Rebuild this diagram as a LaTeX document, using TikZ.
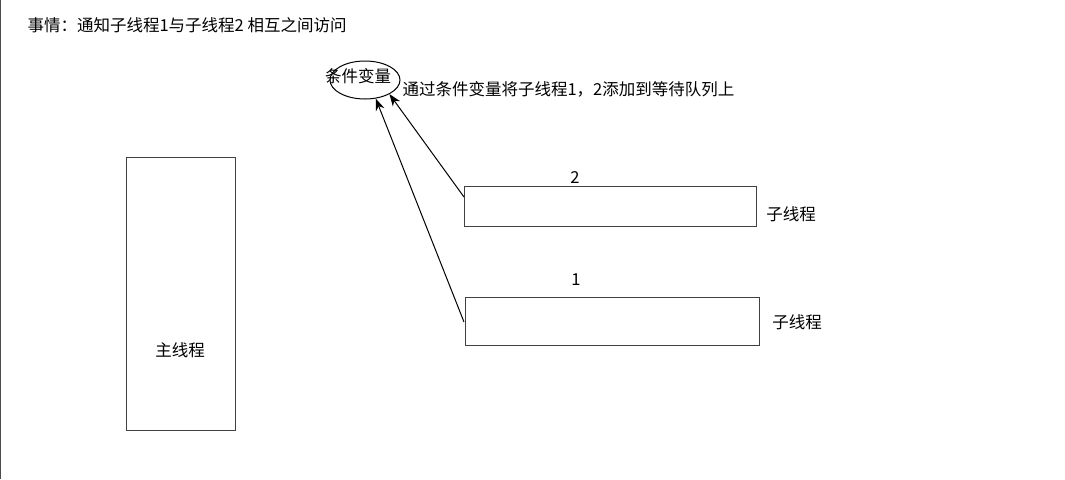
\documentclass[tikz,border=0pt]{standalone}
\usepackage{fontspec}
\setmainfont{Liberation Serif}
\newfontfamily\cjk{Noto Sans CJK SC}
\usetikzlibrary{arrows.meta,positioning,shapes.geometric}

\begin{document}
\begin{tikzpicture}[x=1pt,y=-1pt,
  font=\cjk\fontsize{16.5}{19}\selectfont,
  line width=1pt,
  box/.style = {draw, black!75, line width=1pt},
  lbl/.style = {inner sep=0pt, text=black},
  ->,
  >={Stealth[length=12pt,width=9pt]}]
  \useasboundingbox (0,0) rectangle (1065,479);
  \draw[-, black!70] (0.5,0) -- (0.5,479);
  \node[lbl, anchor=west] (title) at (27,25) {事情：通知子线程1与子线程2 相互之间访问};

  % condition variable
  \node[draw, ellipse, minimum width=70pt, minimum height=38pt, inner sep=0pt] (cond) at (365,80) {};
  \node[lbl] (condtext) at (358,76) {条件变量};
  \node[lbl, anchor=west] (note) at (402,89) {通过条件变量将子线程1，2添加到等待队列上};

  % threads
  \node[box, minimum width=109pt, minimum height=273pt, inner sep=0pt] (main) at (180.5,293.5) {};
  \node[lbl] (maintext) at (180,350) {主线程};
  \node[box, minimum width=292pt, minimum height=40pt, inner sep=0pt] (t2) at (610,206) {};
  \node[box, minimum width=294pt, minimum height=48pt, inner sep=0pt] (t1) at (612,321) {};
  \node[lbl] (n2) at (575,178) {2};
  \node[lbl] (n1) at (576,280) {1};
  \node[lbl] (t2text) at (791,214) {子线程};
  \node[lbl] (t1text) at (797,322) {子线程};

  \coordinate (a2) at (464,197);
  \coordinate (a1) at (464,322);
  \draw (a2) -- (cond.-30);
  \draw (a1) -- (cond.-60);
\end{tikzpicture}
\end{document}
